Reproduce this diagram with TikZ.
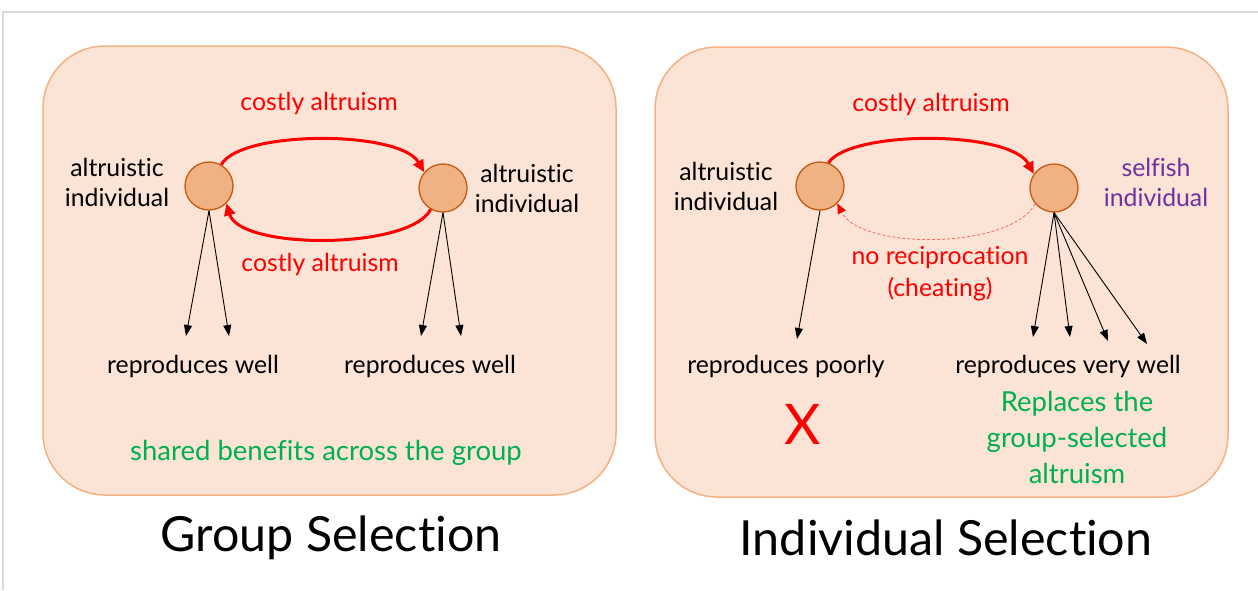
\documentclass[tikz,border=0pt]{standalone}
\usepackage{fontspec}
\setmainfont[Ligatures={NoCommon}]{Lato}
\usetikzlibrary{arrows.meta}
\definecolor{boxfill}{HTML}{FBE3D6}
\definecolor{boxdraw}{HTML}{F4B183}
\definecolor{cfill}{HTML}{F0B283}
\definecolor{cdraw}{HTML}{C55A11}
\definecolor{myred}{HTML}{FF0000}
\definecolor{mygreen}{HTML}{00B050}
\definecolor{mypurple}{HTML}{7030A0}
\tikzset{
  panel/.style={draw=boxdraw, fill=boxfill, line width=1.5pt, rounded corners=62pt},
  indiv/.style={circle, draw=cdraw, fill=cfill, line width=1.3pt, minimum size=48pt, inner sep=0pt},
  lbl/.style={font=\fontsize{24.8}{30}\selectfont, align=center, inner sep=0pt},
  glbl/.style={font=\fontsize{27.5}{36}\selectfont, align=center, inner sep=0pt, text=mygreen},
  title/.style={font=\fontsize{48.4}{50}\selectfont, inner sep=0pt},
  redarc/.style={draw=myred, line width=3pt, -{Triangle[length=12pt,width=11pt]}},
  dasharc/.style={draw=myred!60, line width=0.8pt, dash pattern=on 3pt off 2pt, -{Triangle[length=10pt,width=9pt,color=myred,fill=myred]}},
  offspring/.style={draw=black, line width=0.9pt, -{Triangle[length=11pt,width=8pt]}}
}
\begin{document}
\begin{tikzpicture}[x=1pt,y=-1pt]
\useasboundingbox (0,0) rectangle (1258,590);
\draw[gray!30, line width=1.5pt] (3,590) -- (3,12) -- (1258,12);
% panels
\path[panel] (43,46) rectangle (616,495);
\path[panel] (655,47) rectangle (1228,497);
% left panel
\node[indiv] (a1) at (209,186) {};
\node[indiv] (a2) at (443,188) {};
\node[lbl] (la1) at (117,182) {altruistic\\individual};
\node[lbl] (la2) at (527,188) {altruistic\\individual};
\node[lbl, text=myred] (c1) at (319,103) {costly altruism};
\node[lbl, text=myred] (c2) at (320,264) {costly altruism};
\draw[redarc] (a1.60) .. controls (240,130) and (400,130) .. (a2.140);
\draw[redarc] (a2.-120) .. controls (410,250) and (240,250) .. (a1.-45);
\coordinate (o1) at (186,336);
\coordinate (o2) at (229,336);
\coordinate (o3) at (421,336);
\coordinate (o4) at (461,336);
\draw[offspring] (a1.south) -- (o1);
\draw[offspring] (a1.south) -- (o2);
\draw[offspring] (a2.south) -- (o3);
\draw[offspring] (a2.south) -- (o4);
\node[lbl] (r1) at (193,366) {reproduces well};
\node[lbl] (r2) at (430,366) {reproduces well};
\node[glbl] (sh) at (326,453) {shared benefits across the group};
\node[title] (t1) at (331,538) {Group Selection};
% right panel
\node[indiv] (b1) at (820,186) {};
\node[indiv] (b2) at (1054,188) {};
\node[lbl] (lb1) at (726,186) {altruistic\\individual};
\node[lbl, text=mypurple] (lb2) at (1156,182) {selfish\\individual};
\node[lbl, text=myred] (c3) at (931,104) {costly altruism};
\draw[redarc] (b1.70) .. controls (850,130) and (1010,130) .. (b2.145);
\draw[dasharc] (b2.-140) .. controls (1010,250) and (860,250) .. (b1.-45);
\node[lbl, text=myred, font=\fontsize{24.8}{32}\selectfont] (nr) at (940,274) {no reciprocation\\(cheating)};
\coordinate (p1) at (797,339);
\coordinate (q1) at (1033,337);
\coordinate (q2) at (1070,337);
\coordinate (q3) at (1108,341);
\coordinate (q4) at (1147,344);
\draw[offspring] (b1.south) -- (p1);
\draw[offspring] (b2.south) -- (q1);
\draw[offspring] (b2.south) -- (q2);
\draw[offspring] (b2.south) -- (q3);
\draw[offspring] (b2.south) -- (q4);
\node[lbl] (rp) at (786,366) {reproduces poorly};
\node[lbl] (rv) at (1068,366) {reproduces very well};
\node[font=\fontsize{56}{56}\selectfont, text=myred, inner sep=0pt] (x) at (803,424) {X};
\node[glbl] (rep) at (1077,437) {Replaces the\\group-selected\\altruism};
\node[title] (t2) at (946,538) {Individual Selection};
\end{tikzpicture}
\end{document}
